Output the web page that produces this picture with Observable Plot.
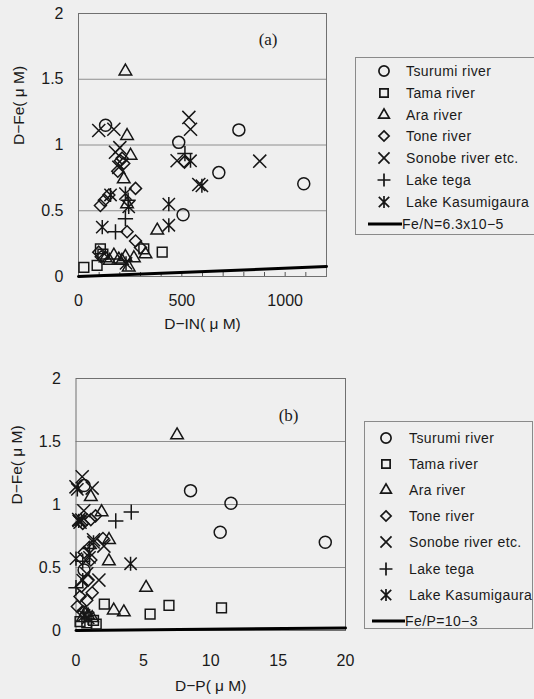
<!DOCTYPE html>
<html><head><meta charset="utf-8">
<script src="https://cdn.jsdelivr.net/npm/d3@7"></script>
<script src="https://cdn.jsdelivr.net/npm/@observablehq/plot@0.6"></script>
<style>
html,body{margin:0;padding:0;background:#efefef;overflow:hidden}
#fig{position:relative;width:534px;height:699px;background:#efefef;font-family:"Liberation Sans",Arial,sans-serif;color:#1a1a1a;overflow:hidden}
.chart{position:absolute;left:0}
.legend{position:absolute;border:1px solid #8a8a8a;box-sizing:border-box;background:#efefef}
.row{position:absolute;left:0;height:20px;display:flex;align-items:center;font-size:14px;letter-spacing:0.4px;white-space:nowrap}
.row svg{flex:none}
</style></head><body><div id="fig"></div>
<script>
// ---- series ----
const seriesNames = ["Tsurumi river","Tama river","Ara river","Tone river","Sonobe river etc.","Lake tega","Lake Kasumigaura"];
const seriesSymbols = ["circle","square2","triangle2","diamond2","times","plus","asterisk"];
const seriesRadius = [6,6.2,6,5.4,6,5,6.2];

// ---- panel (a): D-IN (uM) vs D-Fe (uM) ----
const tsurumiA = [[131,1.15],[485,1.02],[506,0.47],[679,0.79],[776,1.115],[1090,0.705]];
const tamaA = [[26,0.07],[90,0.085],[106,0.21],[118,0.17],[316,0.21],[405,0.185]];
const araA = [[227,1.56],[235,1.07],[252,0.92],[219,0.74],[235,0.55],[381,0.35],[131,0.14],[171,0.16],[195,0.13],[227,0.15],[268,0.14],[324,0.17],[243,0.07],[150,0.12],[210,0.12]];
const toneA = [[203,0.88],[219,0.86],[211,0.90],[276,0.67],[147,0.62],[106,0.54],[125,0.58],[235,0.34],[276,0.27],[300,0.22],[98,0.185],[513,0.87],[190,0.80],[110,0.15]];
const sonobeA = [[98,1.11],[171,1.12],[179,0.945],[195,0.83],[534,1.21],[542,1.12],[477,0.88],[877,0.877],[582,0.70],[200,0.98]];
const tegaA = [[227,0.44],[179,0.34],[515,0.935],[240,0.58]];
const kasumigauraA = [[115,0.375],[227,0.63],[243,0.53],[437,0.55],[437,0.39],[542,0.88],[597,0.69],[155,0.62],[230,0.10]];
const ratioA = 6.3e-5;           // Fe/N
const xDomainA = [0,1200];
const xTicksA = [0,500,1000];
const xMinorA = [100,200,300,400,500,600,700,800,900,1000,1100];

// ---- panel (b): D-P (uM) vs D-Fe (uM) ----
const tsurumiB = [[8.5,1.11],[11.5,1.01],[10.7,0.78],[18.5,0.70],[0.6,0.48],[0.6,1.15]];
const tamaB = [[2.1,0.21],[5.5,0.13],[6.9,0.20],[10.8,0.18],[0.3,0.07],[0.8,0.06],[1.3,0.08],[1.5,0.05]];
const araB = [[7.5,1.55],[1.1,1.06],[1.9,0.94],[2.45,0.72],[2.44,0.55],[5.2,0.34],[2.8,0.16],[3.55,0.145],[0.5,0.10],[0.9,0.12],[1.2,0.10],[0.7,0.14]];
const toneB = [[1.45,0.91],[1.1,0.88],[2.0,0.73],[1.1,0.56],[0.6,0.62],[0.9,0.40],[0.3,0.27],[0.8,0.24],[0.1,0.19],[0.5,0.15],[1.2,0.30],[0.4,0.35],[1.0,0.66],[0.5,0.85]];
const sonobeB = [[0.46,1.22],[0,1.14],[1.2,1.13],[1.7,0.40],[0.58,0.95],[1.3,0.72],[2.07,0.67],[0.2,0.88],[0.8,0.45],[0.3,0.86]];
const tegaB = [[2.95,0.87],[4.1,0.94],[0,0.34],[1.0,0.65],[0.5,0.55]];
const kasumigauraB = [[0.2,0.87],[0.4,0.88],[0,0.57],[4.05,0.53],[1.3,0.70],[0.1,1.12],[0.5,0.40],[1.0,0.58],[0.6,0.12],[0.9,0.10]];
const ratioB = 1e-3;             // Fe/P
const xDomainB = [0,20];
const xTicksB = [0,5,10,15,20];

const yDomain = [0,2];
const yTicks = [0,0.5,1,1.5,2];
const yGrid = [0.5,1,1.5];

const legendLineA = "Fe/N=6.3x10\u22125";
const legendLineB = "Fe/P=10\u22123";

// X with a vertical bar (the asterisk glyph of the original chart)
const asteriskX = {
  draw(context, size) {
    const r = Math.sqrt(size) * 0.56;
    context.moveTo(-r, -r); context.lineTo(r, r);
    context.moveTo(-r, r); context.lineTo(r, -r);
    context.moveTo(0, -r * 1.15); context.lineTo(0, r * 1.15);
  }
};

const symbolMap = {circle: d3.symbolCircle, square2: d3.symbolSquare2, triangle2: d3.symbolTriangle2,
  diamond2: d3.symbolDiamond2, times: d3.symbolTimes, plus: d3.symbolPlus, asterisk: asteriskX};

// ---- drawing ----
function makeChart(o) {
  const frameH = o.height - o.marginTop - o.marginBottom;
  const line = o.xDomain.map(x => [x, o.ratio * x]);
  const marks = [
    Plot.ruleY(yGrid, {stroke: "#8e8e8e", strokeWidth: 1}),
    Plot.frame({stroke: "#707070", strokeWidth: 1})
  ];
  if (o.minor) marks.push(Plot.tickX(o.minor, {stroke: "#555", strokeWidth: 1, insetTop: frameH - 4}));
  marks.push(Plot.line(line, {x: d => d[0], y: d => d[1], stroke: "#000", strokeWidth: 3}));
  o.series.forEach((data, i) => {
    marks.push(Plot.dot(data, {x: d => d[0], y: d => d[1], symbol: symbolMap[seriesSymbols[i]], r: seriesRadius[i],
      stroke: "#161616", strokeWidth: 1.5, fill: "none"}));
  });
  marks.push(
    Plot.axisY({ticks: yTicks, tickSize: 0, tickPadding: 15, tickFormat: d => String(d), label: null, fontSize: 16}),
    Plot.axisX({ticks: o.xTicks, tickSize: 0, tickPadding: o.tickPad, tickFormat: d => String(d), label: null, fontSize: 16}),
    Plot.text([o.yLabel], {frameAnchor: "left", dx: -59, rotate: -90, fontSize: 15.5, fill: "#1a1a1a"}),
    Plot.text([o.xLabel], {frameAnchor: "bottom", dy: o.xLabelDy, fontSize: 15.5, fill: "#1a1a1a"}),
    Plot.text([o.panel], {frameAnchor: "top-right", dx: o.panelDx, dy: o.panelDy, fontSize: 17,
      fontFamily: "Liberation Serif, serif", fill: "#1a1a1a"})
  );
  const svg = Plot.plot({
    width: o.width, height: o.height,
    marginLeft: o.marginLeft, marginRight: o.marginRight, marginTop: o.marginTop, marginBottom: o.marginBottom,
    x: {domain: o.xDomain}, y: {domain: yDomain},
    style: {background: "transparent", fontFamily: "Liberation Sans, Arial, sans-serif", fontSize: "16px", color: "#1a1a1a"},
    marks
  });
  svg.classList.add("chart");
  svg.style.top = o.top + "px";
  return svg;
}

function makeLegend(o) {
  const box = document.createElement("div");
  box.className = "legend";
  Object.assign(box.style, {left: o.left + "px", top: o.top + "px", width: o.width + "px", height: o.height + "px"});
  const items = seriesNames.map((n, i) => ({name: n, sym: seriesSymbols[i], r: seriesRadius[i]}));
  items.push({name: o.lineLabel, sym: null});
  items.forEach((it, i) => {
    const row = document.createElement("div");
    row.className = "row";
    row.style.top = (o.firstRow + i * o.step - 10) + "px";
    const ns = "http://www.w3.org/2000/svg";
    const s = document.createElementNS(ns, "svg");
    s.setAttribute("width", o.textX); s.setAttribute("height", 20);
    if (it.sym) {
      const p = document.createElementNS(ns, "path");
      p.setAttribute("d", d3.symbol(symbolMap[it.sym], Math.PI * it.r * it.r * 0.72)());
      p.setAttribute("transform", `translate(${o.symX},10)`);
      p.setAttribute("fill", "none"); p.setAttribute("stroke", "#161616"); p.setAttribute("stroke-width", 1.7);
      s.appendChild(p);
    } else {
      const l = document.createElementNS(ns, "line");
      l.setAttribute("x1", o.lineX1); l.setAttribute("x2", o.textX); l.setAttribute("y1", 10); l.setAttribute("y2", 10);
      l.setAttribute("stroke", "#000"); l.setAttribute("stroke-width", 3);
      s.appendChild(l);
    }
    row.appendChild(s);
    const t = document.createElement("span");
    t.textContent = it.name;
    t.style.marginLeft = (it.sym ? 4 : 0) + "px";
    row.appendChild(t);
    box.appendChild(row);
  });
  return box;
}

const fig = document.getElementById("fig");
fig.appendChild(makeChart({
  top: 0, width: 340, height: 345, marginLeft: 78, marginRight: 14, marginTop: 13, marginBottom: 69,
  xDomain: xDomainA, xTicks: xTicksA, minor: xMinorA, ratio: ratioA, tickPad: 18, xLabelDy: 52,
  series: [tsurumiA, tamaA, araA, toneA, sonobeA, tegaA, kasumigauraA],
  yLabel: "D\u2212Fe( \u03bc M)", xLabel: "D\u2212IN( \u03bc M)", panel: "(a)", panelDx: -49, panelDy: 19
}));
fig.appendChild(makeChart({
  top: 365, width: 360, height: 334, marginLeft: 75.5, marginRight: 15, marginTop: 13, marginBottom: 69,
  xDomain: xDomainB, xTicks: xTicksB, minor: null, ratio: ratioB, tickPad: 24, xLabelDy: 60,
  series: [tsurumiB, tamaB, araB, toneB, sonobeB, tegaB, kasumigauraB],
  yLabel: "D\u2212Fe( \u03bc M)", xLabel: "D\u2212P( \u03bc M)", panel: "(b)", panelDx: -47, panelDy: 30
}));
fig.appendChild(makeLegend({left: 355, top: 57, width: 200, height: 178, firstRow: 13, step: 21.8,
  symX: 28, textX: 46, lineX1: 12, lineLabel: legendLineA}));
fig.appendChild(makeLegend({left: 364, top: 421, width: 169, height: 208, firstRow: 16, step: 26.1,
  symX: 21, textX: 40, lineX1: 7, lineLabel: legendLineB}));
</script></body></html>
